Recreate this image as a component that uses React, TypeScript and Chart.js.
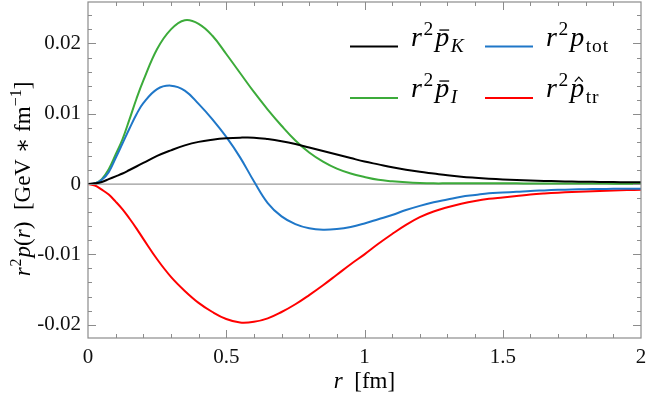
import React, { useEffect, useRef } from 'react';
import { Chart, registerables } from 'chart.js';

Chart.register(...registerables);

// ---------- data ----------
const rValues = [
  0, 0.025, 0.05, 0.075, 0.1, 0.125, 0.15, 0.175, 0.2,
  0.25, 0.3, 0.35, 0.4, 0.45, 0.5, 0.55, 0.6, 0.65, 0.7, 0.75, 0.8, 0.85, 0.9, 0.95,
  1.0, 1.05, 1.1, 1.15, 1.2, 1.25, 1.3, 1.35, 1.4, 1.45,
  1.5, 1.55, 1.6, 1.65, 1.7, 1.75, 1.8, 1.85, 1.9, 1.95, 2.0,
];

const pK = [
  0, 0.0001, 0.0003, 0.0007, 0.0011, 0.0015, 0.0020, 0.0025, 0.0030,
  0.0040, 0.0048, 0.0055, 0.0060, 0.0063, 0.0065, 0.0066, 0.0066, 0.0064, 0.0061, 0.0057, 0.0052, 0.0047, 0.0042, 0.0037,
  0.0032, 0.0028, 0.0024, 0.00205, 0.00175, 0.0015, 0.00125, 0.00105, 0.0009, 0.00077,
  0.00066, 0.00057, 0.0005, 0.00044, 0.0004, 0.00036, 0.00033, 0.0003, 0.00028, 0.00026, 0.00024,
];

const pTot = [
  0, 0.0001, 0.0006, 0.0017, 0.0037, 0.0058, 0.0079, 0.0099, 0.0115,
  0.0135, 0.0140, 0.0133, 0.0114, 0.0092, 0.0067, 0.0038, 0.0004, -0.0027, -0.0046, -0.0057, -0.0063, -0.0065, -0.0064, -0.0061,
  -0.0056, -0.0050, -0.0044, -0.0037, -0.0031, -0.0026, -0.0022, -0.0018, -0.00155, -0.0013,
  -0.0012, -0.0011, -0.00098, -0.0009, -0.00082, -0.00077, -0.00073, -0.0007, -0.00068, -0.00067, -0.00066,
];

const pI = [
  0, 0.0001, 0.0007, 0.0021, 0.0042, 0.0064, 0.0092, 0.0121, 0.0147,
  0.0192, 0.0220, 0.0233, 0.0228, 0.0211, 0.0185, 0.0158, 0.0131, 0.0106, 0.0083, 0.0062, 0.0045, 0.0032, 0.0022, 0.0015,
  0.0010, 0.0006, 0.0004, 0.00025, 0.00015, 0.0001, 0.0001, 0.0001, 0.0001, 0.0001,
  0.0001, 0.0001, 0.00009, 0.00009, 0.00008, 0.00008, 0.00007, 0.00007, 0.00006, 0.00006, 0.00006,
];

const pTr = [
  0, -0.0002, -0.0008, -0.0015, -0.0025, -0.0036, -0.0049, -0.0063, -0.0078,
  -0.0107, -0.0132, -0.0152, -0.0169, -0.0182, -0.0192, -0.0197, -0.0196, -0.0191, -0.0182, -0.0171, -0.0158, -0.0144, -0.0129, -0.0114,
  -0.0100, -0.0085, -0.0071, -0.0058, -0.0047, -0.0039, -0.0033, -0.0028, -0.0024, -0.0021,
  -0.0019, -0.0017, -0.0015, -0.00135, -0.00123, -0.00113, -0.00105, -0.00098, -0.00092, -0.00086, -0.0008,
];

const xTickValues = [0, 0.5, 1, 1.5, 2];
const xTickLabels = ['0', '0.5', '1', '1.5', '2'];
const yTickValues = [-0.02, -0.01, 0, 0.01, 0.02];
const yTickLabels = ['-0.02', '-0.01', '0', '0.01', '0.02'];

const COLORS = {
  K: '#000000',
  tot: '#1f77c8',
  I: '#3cab3a',
  tr: '#ff0000',
};

const SERIF = '"Liberation Serif", "Times New Roman", "DejaVu Serif", serif';

type Run = {
  t: string; s: number; it?: boolean; dy?: number; bar?: boolean; hat?: boolean; gap?: number; ls?: number;
};

function fontOf(r: Run) {
  return `${r.it ? 'italic ' : ''}${r.s}px ${SERIF}`;
}

function setRun(ctx: any, r: Run) {
  ctx.font = fontOf(r);
  if ('letterSpacing' in ctx) ctx.letterSpacing = `${r.ls || 0}px`;
}

function runsWidth(ctx: CanvasRenderingContext2D, runs: Run[]) {
  let w = 0;
  for (const r of runs) {
    setRun(ctx, r);
    w += ctx.measureText(r.t).width + (r.gap || 0);
  }
  if ('letterSpacing' in ctx) (ctx as any).letterSpacing = '0px';
  return w;
}

function drawRuns(ctx: CanvasRenderingContext2D, runs: Run[], x: number, y: number) {
  let cx = x;
  ctx.textBaseline = 'alphabetic';
  ctx.textAlign = 'left';
  for (const r of runs) {
    setRun(ctx, r);
    const w = ctx.measureText(r.t).width;
    ctx.fillText(r.t, cx, y + (r.dy || 0));
    if (r.bar) {
      ctx.save();
      ctx.lineWidth = 1.3;
      ctx.strokeStyle = '#000';
      ctx.beginPath();
      ctx.moveTo(cx + w * 0.3, y - r.s * 0.57);
      ctx.lineTo(cx + w * 1.0, y - r.s * 0.57);
      ctx.stroke();
      ctx.restore();
    }
    if (r.hat) {
      ctx.save();
      ctx.lineWidth = 1.2;
      ctx.strokeStyle = '#000';
      const mx = cx + w * 0.62;
      const by = y - r.s * 0.55;
      ctx.beginPath();
      ctx.moveTo(mx - 4, by);
      ctx.lineTo(mx, by - 4.5);
      ctx.lineTo(mx + 4, by);
      ctx.stroke();
      ctx.restore();
    }
    cx += w + (r.gap || 0);
  }
  if ('letterSpacing' in ctx) (ctx as any).letterSpacing = '0px';
}

const BIG = 28;
const SMALL = 19.5;
const SUP = -11;
const SUB = 6;

const legendEntries = [
  {
    color: COLORS.K, lx: 350, ly: 46.5, tx: 411, ty: 46,
    runs: [
      { t: 'r', s: BIG, it: true, gap: 1.5 },
      { t: '2', s: SMALL, dy: SUP, gap: 2 },
      { t: 'p', s: BIG, it: true, bar: true, gap: 1.5 },
      { t: 'K', s: SMALL, it: true, dy: SUB },
    ] as Run[],
  },
  {
    color: COLORS.tot, lx: 485, ly: 46.5, tx: 546, ty: 46,
    runs: [
      { t: 'r', s: BIG, it: true, gap: 1.5 },
      { t: '2', s: SMALL, dy: SUP, gap: 2 },
      { t: 'p', s: BIG, it: true, gap: 1.5 },
      { t: 'tot', s: SMALL, dy: SUB, ls: 1 },
    ] as Run[],
  },
  {
    color: COLORS.I, lx: 350, ly: 98, tx: 411, ty: 97,
    runs: [
      { t: 'r', s: BIG, it: true, gap: 1.5 },
      { t: '2', s: SMALL, dy: SUP, gap: 2 },
      { t: 'p', s: BIG, it: true, bar: true, gap: 1.5 },
      { t: 'I', s: SMALL, it: true, dy: SUB },
    ] as Run[],
  },
  {
    color: COLORS.tr, lx: 485, ly: 98, tx: 546, ty: 97,
    runs: [
      { t: 'r', s: BIG, it: true, gap: 1.5 },
      { t: '2', s: SMALL, dy: SUP, gap: 2 },
      { t: 'p', s: BIG, it: true, hat: true, gap: 1.5 },
      { t: 'tr', s: SMALL, dy: SUB, ls: 1 },
    ] as Run[],
  },
];

const TB = 23;
const TS = 16;

const yTitleRuns: Run[] = [
  { t: 'r', s: TB, it: true, gap: 1 },
  { t: '2', s: TS, dy: -9, gap: 1 },
  { t: 'p', s: TB, it: true },
  { t: '(', s: TB },
  { t: 'r', s: TB, it: true },
  { t: ')', s: TB },
  { t: '  [GeV ∗ fm', s: TB },
  { t: '−1', s: TS, dy: -9 },
  { t: ']', s: TB },
];

const xTitleRuns: Run[] = [
  { t: 'r', s: TB, it: true },
  { t: '  [fm]', s: TB },
];

const framePlugin = {
  id: 'framePlugin',
  beforeDatasetsDraw(chart: any) {
    const { ctx, chartArea: a, scales } = chart;
    const y0 = scales.y.getPixelForValue(0);
    ctx.save();
    ctx.strokeStyle = '#9a9a9a';
    ctx.lineWidth = 1.3;
    ctx.beginPath();
    ctx.moveTo(a.left, y0);
    ctx.lineTo(a.right, y0);
    ctx.stroke();
    ctx.restore();
  },
  afterDatasetsDraw(chart: any) {
    const { ctx, chartArea: a, scales } = chart;
    const xs = scales.x;
    const ys = scales.y;
    ctx.save();
    ctx.strokeStyle = '#8c8c8c';
    ctx.lineWidth = 1.2;
    ctx.strokeRect(a.left, a.top, a.right - a.left, a.bottom - a.top);
    ctx.lineWidth = 1;
    ctx.beginPath();
    // x ticks every 0.1, major every 0.5
    for (let i = 1; i < 20; i++) {
      const v = i / 10;
      const px = Math.round(xs.getPixelForValue(v)) + 0.5;
      const len = i % 5 === 0 ? 8 : 4;
      ctx.moveTo(px, a.bottom);
      ctx.lineTo(px, a.bottom - len);
      ctx.moveTo(px, a.top);
      ctx.lineTo(px, a.top + len);
    }
    // y ticks every 0.002, major every 0.01
    for (let i = -10; i <= 12; i++) {
      const v = i * 0.002;
      if (v < ys.min || v > ys.max) continue;
      const py = Math.round(ys.getPixelForValue(v)) + 0.5;
      const len = i % 5 === 0 ? 8 : 4;
      ctx.moveTo(a.left, py);
      ctx.lineTo(a.left + len, py);
      ctx.moveTo(a.right, py);
      ctx.lineTo(a.right - len, py);
    }
    ctx.stroke();
    ctx.restore();
  },
  afterDraw(chart: any) {
    const { ctx, chartArea: a } = chart;
    ctx.save();
    ctx.fillStyle = '#000';
    // legend
    for (const e of legendEntries) {
      ctx.strokeStyle = e.color;
      ctx.lineWidth = 2;
      ctx.beginPath();
      ctx.moveTo(e.lx, e.ly);
      ctx.lineTo(e.lx + 48, e.ly);
      ctx.stroke();
      drawRuns(ctx, e.runs, e.tx, e.ty);
    }
    // x title
    const xw = runsWidth(ctx, xTitleRuns);
    drawRuns(ctx, xTitleRuns, (a.left + a.right) / 2 - xw / 2, 388);
    // y title
    const yw = runsWidth(ctx, yTitleRuns);
    ctx.translate(30, 179);
    ctx.rotate(-Math.PI / 2);
    drawRuns(ctx, yTitleRuns, -yw / 2, 0);
    ctx.restore();
  },
};

function makeSeries(vals: number[]) {
  return rValues.map((r, i) => ({ x: r, y: vals[i] }));
}

function zeroPadding(axis: any) {
  axis.paddingTop = 0;
  axis.paddingBottom = 0;
  axis.paddingLeft = 0;
  axis.paddingRight = 0;
}

export default function App() {
  const canvasRef = useRef<HTMLCanvasElement | null>(null);

  useEffect(() => {
    document.body.style.margin = '0';
    const canvas = canvasRef.current;
    if (!canvas) return;
    let alive = true;
    const tickFont = { family: SERIF, size: 21 };
    const chart = new Chart(canvas, {
      type: 'line',
      data: {
        datasets: [
          { label: 'r2pK', data: makeSeries(pK), borderColor: COLORS.K },
          { label: 'r2ptot', data: makeSeries(pTot), borderColor: COLORS.tot },
          { label: 'r2pI', data: makeSeries(pI), borderColor: COLORS.I },
          { label: 'r2ptr', data: makeSeries(pTr), borderColor: COLORS.tr },
        ].map((d) => ({
          ...d,
          borderWidth: 2,
          pointRadius: 0,
          fill: false,
          tension: 0.4,
        })),
      },
      options: {
        animation: false,
        responsive: true,
        maintainAspectRatio: false,
        layout: { padding: { top: 2, right: 7, left: 0, bottom: 0 } },
        plugins: { legend: { display: false }, tooltip: { enabled: false } },
        scales: {
          x: {
            type: 'linear',
            min: 0,
            max: 2,
            grid: { display: false, drawTicks: false },
            border: { display: false },
            afterBuildTicks: (axis: any) => {
              axis.ticks = xTickValues.map((v) => ({ value: v }));
            },
            afterFit: (axis: any) => {
              axis.height = 61;
              zeroPadding(axis);
            },
            ticks: {
              font: tickFont,
              color: '#111',
              padding: 7,
              maxRotation: 0,
              autoSkip: false,
              callback: (value: any) => {
                const i = xTickValues.findIndex((v) => Math.abs(v - Number(value)) < 1e-9);
                return i >= 0 ? xTickLabels[i] : '';
              },
            },
          },
          y: {
            type: 'linear',
            min: -0.0219,
            max: 0.0259,
            grid: { display: false, drawTicks: false },
            border: { display: false },
            afterBuildTicks: (axis: any) => {
              axis.ticks = yTickValues.map((v) => ({ value: v }));
            },
            afterFit: (axis: any) => {
              axis.width = 88;
              zeroPadding(axis);
            },
            ticks: {
              font: tickFont,
              color: '#111',
              padding: 7,
              autoSkip: false,
              callback: (value: any) => {
                const i = yTickValues.findIndex((v) => Math.abs(v - Number(value)) < 1e-9);
                return i >= 0 ? yTickLabels[i] : '';
              },
            },
          },
        },
      },
      plugins: [framePlugin],
    });
    const fonts = (document as any).fonts;
    if (fonts && fonts.load) {
      Promise.all([
        fonts.load('21px "Liberation Serif"'),
        fonts.load('italic 23px "Liberation Serif"'),
      ]).then(() => {
        if (alive) chart.update('none');
      }).catch(() => {});
    }
    return () => {
      alive = false;
      chart.destroy();
    };
  }, []);

  return (
    <div style={{ position: 'fixed', left: 0, top: 0, width: 648, height: 399 }}>
      <canvas ref={canvasRef} />
    </div>
  );
}
